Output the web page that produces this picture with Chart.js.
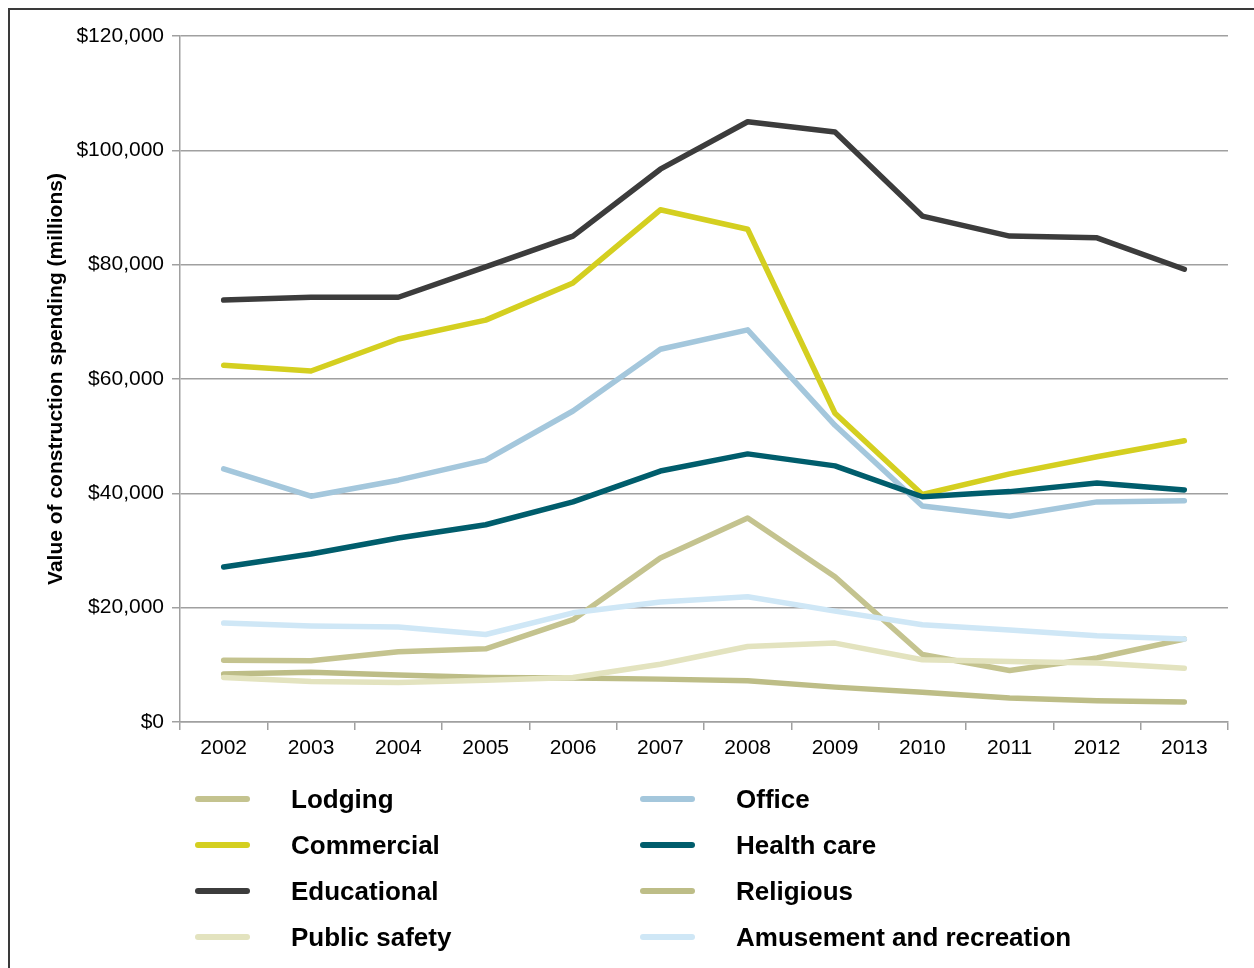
<!DOCTYPE html>
<html>
<head>
<meta charset="utf-8">
<script src="https://cdn.jsdelivr.net/npm/chart.js@4/dist/chart.umd.min.js"></script>
<style>
  body { margin: 0; background: #fff; font-family: "Liberation Sans", Arial, sans-serif; }
  #frame { position: absolute; left: 8px; top: 8px; width: 1300px; height: 1000px;
           border-left: 2px solid #3a3a3a; border-top: 2px solid #3a3a3a; }
  #wrap { position: absolute; left: 0; top: 0; width: 1254px; height: 762px; }
  #legend { position: absolute; left: 0; top: 0; width: 1254px; height: 968px; pointer-events: none; }
  .item { position: absolute; height: 30px; display: flex; align-items: center; }
  .swatch { width: 55px; height: 6px; border-radius: 3px; margin-right: 41px; }
  .label { font-weight: bold; font-size: 26px; color: #000; white-space: nowrap; }
</style>
</head>
<body>
<div id="frame"></div>
<div id="wrap"><canvas id="myChartLine" width="1254" height="762"></canvas></div>
<div id="legend"></div>
<script>
const years = ["2002", "2003", "2004", "2005", "2006", "2007", "2008", "2009", "2010", "2011", "2012", "2013"];

const lodging = [10800, 10700, 12300, 12800, 17900, 28700, 35700, 25400, 11800, 9000, 11200, 14500];
const office = [44300, 39500, 42300, 45800, 54400, 65200, 68600, 51900, 37800, 36000, 38500, 38700];
const commercial = [62400, 61400, 67000, 70300, 76800, 89600, 86200, 54000, 39800, 43400, 46400, 49200];
const healthCare = [27100, 29400, 32200, 34500, 38500, 43900, 46900, 44800, 39400, 40300, 41800, 40600];
const educational = [73800, 74300, 74300, 79600, 85000, 96700, 105000, 103200, 88500, 85000, 84700, 79200];
const religious = [8400, 8700, 8200, 7800, 7700, 7500, 7200, 6100, 5200, 4200, 3700, 3500];
const publicSafety = [7800, 7100, 6900, 7300, 7800, 10100, 13200, 13800, 10900, 10600, 10300, 9400];
const amusement = [17300, 16800, 16600, 15300, 19100, 21000, 21900, 19400, 17000, 16100, 15100, 14500];

const yTicks = [0, 20000, 40000, 60000, 80000, 100000, 120000];

const seriesNames = ["Lodging", "Office", "Commercial", "Health care", "Educational", "Religious", "Public safety", "Amusement and recreation"];
const seriesData = [lodging, office, commercial, healthCare, educational, religious, publicSafety, amusement];
const seriesColors = ["#c4c38f", "#a4c7dc", "#d4cf20", "#005d6c", "#3c3c3c", "#bdbd87", "#e3e3bf", "#cfe7f6"];

const fontFamily = '"Liberation Sans", Arial, sans-serif';
const gridColor = "#a0a0a0";

const canvas_line = document.getElementById("myChartLine");
let myChart_line = new Chart(canvas_line, {
  type: "line",
  data: {
    labels: years,
    datasets: seriesNames.map((name, i) => ({
      label: name,
      data: seriesData[i],
      borderColor: seriesColors[i],
      backgroundColor: seriesColors[i],
      borderWidth: 5.5,
      borderCapStyle: "round",
      borderJoinStyle: "round",
      pointRadius: 0,
      tension: 0,
      fill: false,
      // later series drawn on top, like the original
      order: -i,
    })),
  },
  options: {
    responsive: false,
    animation: false,
    events: [],
    layout: { padding: { top: 36, right: 26, left: 0, bottom: 0 } },
    plugins: {
      legend: { display: false },
      tooltip: { enabled: false },
    },
    scales: {
      x: {
        offset: true,
        grid: {
          offset: true,
          drawOnChartArea: false,
          drawTicks: true,
          tickLength: 8,
          color: gridColor,
          lineWidth: 1.5,
        },
        border: { color: gridColor, width: 1.5 },
        ticks: {
          color: "#000",
          font: { family: fontFamily, size: 21 },
          padding: 6,
          autoSkip: false,
          maxRotation: 0,
        },
        afterFit: (s) => { s.height = 40; },
      },
      y: {
        min: 0,
        max: 120000,
        afterBuildTicks: (s) => { s.ticks = yTicks.map((v) => ({ value: v })); },
        grid: {
          color: gridColor,
          lineWidth: 1.5,
          tickLength: 8,
        },
        border: { color: gridColor, width: 1.5 },
        ticks: {
          color: "#000",
          font: { family: fontFamily, size: 21 },
          padding: 8,
          callback: (v) => "$" + Number(v).toLocaleString("en-US"),
        },
        title: {
          display: true,
          text: "Value of construction spending (millions)",
          color: "#000",
          font: { family: fontFamily, size: 21, weight: "bold" },
          padding: { top: 44, bottom: 0 },
        },
        afterFit: (s) => { s.width = 180; },
      },
    },
  },
});

// two-column legend like the original
const legendBox = document.getElementById("legend");
const colLeft = [195, 640];
const rowCenter = [799, 845, 891, 937];
myChart_line.data.datasets.forEach((ds, i) => {
  const item = document.createElement("div");
  item.className = "item";
  item.style.left = colLeft[i % 2] + "px";
  item.style.top = (rowCenter[Math.floor(i / 2)] - 15) + "px";
  const sw = document.createElement("div");
  sw.className = "swatch";
  sw.style.background = ds.borderColor;
  const lb = document.createElement("span");
  lb.className = "label";
  lb.textContent = ds.label;
  item.appendChild(sw);
  item.appendChild(lb);
  legendBox.appendChild(item);
});
</script>
</body>
</html>
